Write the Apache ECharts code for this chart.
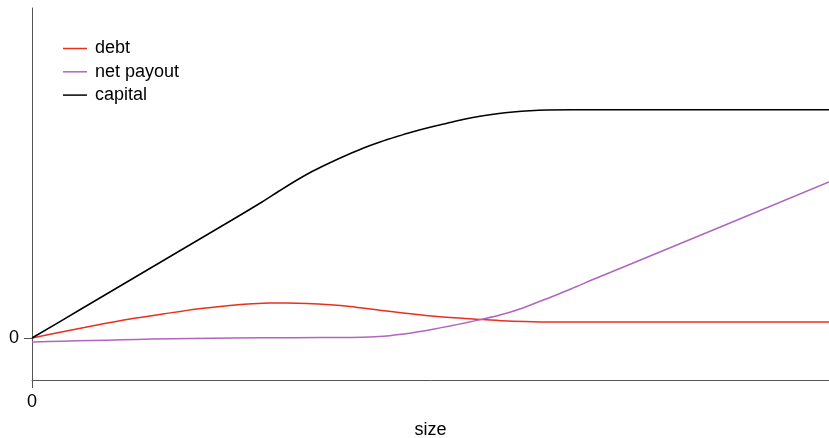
<!DOCTYPE html>
<html><head><meta charset="utf-8">
<script src="https://cdn.jsdelivr.net/npm/echarts@6/dist/echarts.min.js"></script>
<style>html,body{margin:0;padding:0;background:#fff}#c{width:829px;height:438px}</style>
</head><body><div id="c"></div>
<script>
const seriesNames = ['debt', 'net payout', 'capital'];
const debtX = [0, 32, 65, 98, 131, 165, 198, 220, 238, 255, 275, 298, 318, 350, 385, 418, 451, 476, 501, 525, 550, 797];
const debtY = [0, 6.5, 13, 19, 24, 29, 32.5, 34.2, 35, 35, 34.6, 33.3, 31.5, 27.5, 23.5, 20.5, 18.5, 17, 16.3, 16, 16, 16];
const payoutX = [0, 30, 60, 90, 120, 160, 200, 260, 320, 338, 355, 370, 385, 401, 418, 434, 451, 468, 485, 501, 518, 540, 561, 600, 797];
const payoutY = [-4, -3.2, -2.5, -1.8, -1.1, -0.5, 0, 0.3, 0.6, 1, 2, 3.8, 6, 8.8, 12, 15.3, 19, 23, 28, 34, 40.5, 49.5, 58.5, 74.5, 156];
const capitalX = [0, 50, 100, 150, 200, 230, 248, 265, 281, 298, 315, 331, 348, 365, 381, 398, 415, 431, 448, 465, 481, 498, 515, 540, 797];
const capitalY = [0, 29.5, 59, 88.5, 118, 136, 147.5, 158, 167, 175.3, 183, 189.8, 196, 201.5, 206.3, 210.8, 214.8, 218.5, 221.7, 224.2, 226, 227.3, 228, 228.3, 228.3];
const xTickValues = [0];
const yTickValues = [0];

const zip = (xs, ys) => xs.map((x, i) => [x, ys[i]]);
const colors = ['#e8301f', '#b065be', '#000000'];
const font = 'Liberation Sans, Arial, Helvetica, sans-serif';
const chart = echarts.init(document.getElementById('c'), null, {renderer: 'canvas'});
const mk = (i, xs, ys) => ({
  name: seriesNames[i], type: 'line', data: zip(xs, ys),
  smooth: 0.3, showSymbol: false, symbol: 'none',
  lineStyle: {color: colors[i], width: 1.5}, itemStyle: {color: colors[i]}
});
chart.setOption({
  animation: false,
  grid: {left: 32, right: 0, top: 8, bottom: 58, containLabel: false, outerBoundsMode: 'none'},
  legend: {
    orient: 'vertical', left: 63, top: 39.5, padding: 0,
    icon: 'rect', itemWidth: 24, itemHeight: 1.5, itemGap: 5.3,
    textStyle: {fontFamily: font, fontSize: 18, color: '#000', lineHeight: 18, padding: [0, 0, 0, 3]},
    data: seriesNames
  },
  xAxis: {
    type: 'value', min: 0, max: 797,
    name: 'size', nameLocation: 'middle', nameGap: 41,
    nameTextStyle: {fontFamily: font, fontSize: 18, color: '#000'},
    axisLine: {show: true, onZero: false, lineStyle: {color: '#555', width: 1}},
    axisTick: {show: true, length: 8, customValues: xTickValues, lineStyle: {color: '#555'}},
    axisLabel: {customValues: xTickValues, fontFamily: font, fontSize: 18, color: '#000', margin: 13},
    splitLine: {show: false}
  },
  yAxis: {
    type: 'value', min: -42, max: 330,
    axisLine: {show: true, onZero: false, lineStyle: {color: '#555', width: 1}},
    axisTick: {show: true, length: 8, customValues: yTickValues, lineStyle: {color: '#555'}},
    axisLabel: {customValues: yTickValues, fontFamily: font, fontSize: 18, color: '#000', margin: 13},
    splitLine: {show: false}
  },
  series: [mk(0, debtX, debtY), mk(1, payoutX, payoutY), mk(2, capitalX, capitalY)]
});
</script></body></html>
